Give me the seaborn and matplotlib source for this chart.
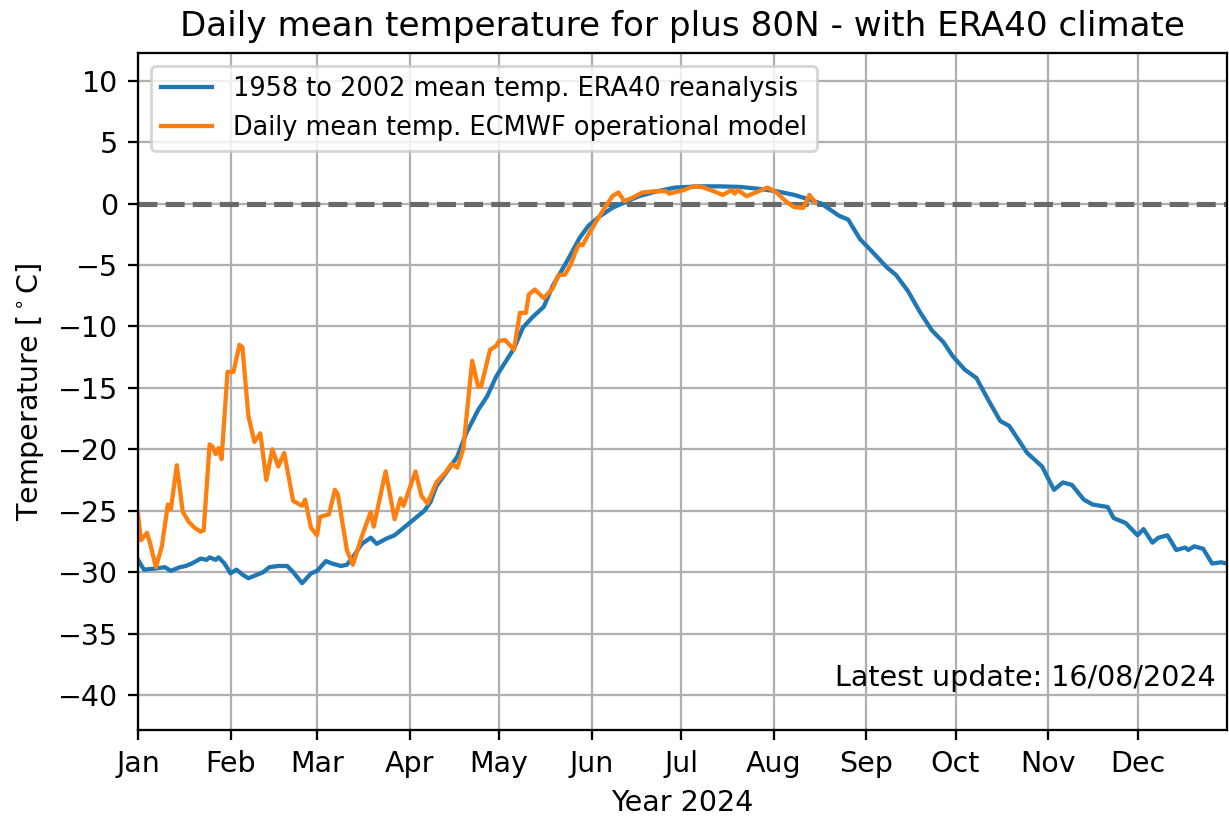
import numpy as np
import pandas as pd
import matplotlib
matplotlib.use("Agg")
import matplotlib.pyplot as plt
import matplotlib.dates as mdates
import seaborn as sns

# ---- data (day-of-year offset from 1 Jan 2024, temperature in deg C) ----
clim_days = [0, 2, 6, 9, 11, 14, 16, 18, 21, 23, 24, 26, 27, 29, 31, 33, 35, 37, 39, 42,
             44, 47, 50, 52, 55, 58, 60, 63, 65, 68, 70, 72, 75, 78, 80, 83, 86, 89, 92, 96,
             98, 100, 103, 107, 110, 114, 117, 120, 126, 129, 132, 136, 139, 144, 148, 151,
             155, 159, 164, 168, 174, 180, 188, 195, 202, 208, 214, 220, 224, 229, 235, 238,
             242, 246, 251, 254, 258, 262, 266, 270, 273, 277, 281, 285, 289, 292, 298, 303,
             307, 310, 313, 317, 320, 325, 327, 331, 335, 337, 340, 342, 345, 348, 351, 352,
             354, 357, 360, 363, 365]
clim_vals = [-29.0, -29.8, -29.7, -29.6, -29.9, -29.6, -29.5, -29.3, -28.9, -29.0, -28.8, -29.0,
             -28.8, -29.3, -30.1, -29.8, -30.2, -30.5, -30.3, -30.0, -29.6, -29.5, -29.5, -30.0,
             -30.9, -30.1, -29.9, -29.1, -29.3, -29.5, -29.4, -28.8, -27.7, -27.2, -27.7, -27.3,
             -27.0, -26.4, -25.8, -25.0, -24.3, -23.0, -22.0, -20.6, -18.7, -16.8, -15.7, -14.1,
             -11.8, -10.1, -9.3, -8.4, -6.7, -4.6, -2.8, -1.8, -1.0, -0.35, 0.2, 0.6, 1.0, 1.3,
             1.4, 1.4, 1.35, 1.2, 1.0, 0.7, 0.4, 0.0, -1.0, -1.3, -2.9, -3.9, -5.2, -5.8, -7.1,
             -8.8, -10.3, -11.3, -12.4, -13.5, -14.2, -16.0, -17.7, -18.1, -20.3, -21.4, -23.3,
             -22.7, -22.9, -24.1, -24.5, -24.7, -25.6, -26.0, -27.0, -26.5, -27.6, -27.2, -27.0,
             -28.2, -28.0, -28.2, -27.9, -28.1, -29.3, -29.2, -29.3]

oper_days = [0, 1, 3, 4, 6, 8, 10, 11, 13, 15, 17, 19, 21, 22, 24, 25, 26, 27, 28, 30, 32, 34,
             35, 37, 39, 41, 43, 45, 47, 49, 52, 55, 56, 58, 60, 61, 64, 66, 67, 70, 72, 75, 78,
             79, 83, 86, 88, 89, 93, 95, 97, 100, 103, 105, 107, 109, 110, 112, 114, 115, 118,
             120, 121, 123, 126, 128, 130, 131, 133, 136, 139, 141, 143, 145, 147, 148, 149,
             151, 154, 156, 159, 161, 163, 166, 169, 173, 177, 178, 183, 186, 189, 193, 196,
             199, 200, 201, 204, 207, 211, 214, 217, 220, 223, 225, 227]
oper_vals = [-25.3, -27.4, -26.8, -27.6, -29.6, -27.9, -24.5, -24.9, -21.3, -25.1, -25.9, -26.4,
             -26.7, -26.6, -19.6, -19.8, -20.4, -19.9, -20.8, -13.7, -13.7, -11.5, -11.7, -17.3,
             -19.4, -18.7, -22.5, -20.0, -21.4, -20.3, -24.2, -24.6, -24.1, -26.4, -27.0, -25.5,
             -25.3, -23.3, -23.7, -28.2, -29.4, -27.1, -25.1, -26.3, -21.8, -25.7, -24.0, -24.6,
             -21.8, -23.8, -24.4, -22.7, -21.9, -21.2, -21.5, -20.0, -17.6, -12.8, -14.9, -14.9,
             -11.9, -11.6, -11.2, -11.1, -11.9, -8.9, -8.9, -7.4, -7.0, -7.7, -6.9, -5.8, -5.8,
             -5.0, -3.7, -3.3, -3.4, -2.5, -1.3, -0.5, 0.6, 0.9, 0.2, 0.5, 0.9, 1.0, 1.0, 0.8,
             1.1, 1.4, 1.35, 1.0, 0.7, 1.1, 0.8, 1.1, 0.6, 0.9, 1.3, 0.9, 0.2, -0.3, -0.35, 0.7,
             0.1]

clim_label = "1958 to 2002 mean temp. ERA40 reanalysis"
oper_label = "Daily mean temp. ECMWF operational model"
title = "Daily mean temperature for plus 80N - with ERA40 climate"
update_text = "Latest update: 16/08/2024"

start = pd.Timestamp("2024-01-01")
clim_dates = start + pd.to_timedelta(clim_days, unit="D")
oper_dates = start + pd.to_timedelta(oper_days, unit="D")

DPI = 204.8
fig, ax = plt.subplots(figsize=(1229 / DPI, 816 / DPI), dpi=DPI)
fig.subplots_adjust(left=0.1123, right=0.9984, top=0.935, bottom=0.1054)

sns.lineplot(x=clim_dates, y=clim_vals, ax=ax, color="#1f77b4", linewidth=1.5,
             label=clim_label)
sns.lineplot(x=oper_dates, y=oper_vals, ax=ax, color="#ff7f0e", linewidth=1.5,
             label=oper_label)
ax.axhline(0, color="dimgray", linestyle="--", linewidth=1.8, zorder=1)

ax.set_xlim(pd.Timestamp("2024-01-01"), pd.Timestamp("2024-12-31"))
ax.set_ylim(-42.85, 12.25)
ax.set_yticks(np.arange(-40, 11, 5))
ax.xaxis.set_major_locator(mdates.MonthLocator())
ax.xaxis.set_major_formatter(mdates.DateFormatter("%b"))
ax.grid(True, color="#b0b0b0", linewidth=0.8)
ax.set_axisbelow(True)

ax.set_title(title)
ax.set_xlabel("Year 2024")
ax.set_ylabel(r"Temperature [$^\circ$C]")
ax.legend(loc="upper left", fontsize=9)
ax.text(0.99, 0.077, update_text, transform=ax.transAxes, ha="right", va="center")

fig.savefig("out.png", dpi=DPI)
